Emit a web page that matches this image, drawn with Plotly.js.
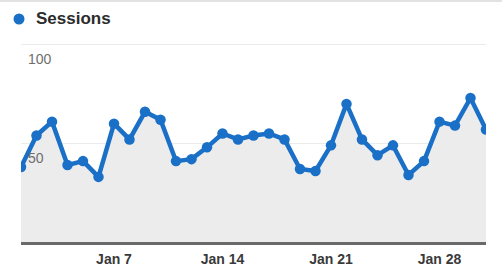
<!DOCTYPE html>
<html>
<head>
<meta charset="utf-8">
<script src="https://cdn.plot.ly/plotly-3.0.1.min.js"></script>
<style>html,body{margin:0;padding:0;background:#fff;}#chart{width:502px;height:267px;}</style>
</head>
<body>
<div id="chart"></div>
<script>
const days = [1,2,3,4,5,6,7,8,9,10,11,12,13,14,15,16,17,18,19,20,21,22,23,24,25,26,27,28,29,30,31];
const sessions = [38,54,61,39,41,33,60,52,66,62,41,42,48,55,52,54,55,52,37,36,49,70,52,44,49,34,41,61,59,73,57];
const tickDays = [7,14,21,28];
const tickLabels = ["Jan 7","Jan 14","Jan 21","Jan 28"];
const yTicks = [50,100];
const yTickLabels = ["50","100"];
const seriesName = "Sessions";

const trace = {
  x: days, y: sessions, type: 'scatter', mode: 'lines+markers',
  fill: 'tozeroy', fillcolor: '#ececec',
  line: {color: '#1a6fc7', width: 4.5},
  marker: {color: '#1a6fc7', size: 10.5},
  name: seriesName, showlegend: false, hoverinfo: 'skip'
};

const legY = (267 - 25 - 19) / 217;

const layout = {
  width: 502, height: 267,
  margin: {l: 21, r: 16, t: 25, b: 25},
  paper_bgcolor: '#ffffff', plot_bgcolor: '#ffffff',
  font: {family: 'Liberation Sans, Arial, sans-serif'},
  xaxis: {
    range: [1, 31], tickvals: tickDays, ticktext: tickLabels,
    showgrid: false, zeroline: false,
    showline: true, linecolor: '#6a6a6a', linewidth: 2.5,
    ticks: '', ticklen: 0, ticklabelstandoff: 3,
    tickfont: {size: 14, color: '#3a3a3a', family: 'Liberation Sans, Arial, sans-serif', weight: 'bold'},
    fixedrange: true
  },
  yaxis: {
    range: [0, 110], tickvals: yTicks, ticktext: yTickLabels,
    showgrid: true, gridcolor: '#ebebeb', gridwidth: 1,
    zeroline: false, showline: false, ticks: '',
    ticklabelposition: 'inside bottom',
    ticklabelstandoff: 4, ticklabelshift: 5,
    tickfont: {size: 14, color: '#6e6e6e'},
    fixedrange: true
  },
  shapes: [
    {type: 'rect', xref: 'paper', yref: 'paper', x0: -0.05, x1: 1.05,
     y0: (267 - 25 - 2) / 217, y1: (267 - 25) / 217, fillcolor: '#e2e2e2', line: {width: 0}, layer: 'below'},
    {type: 'circle', xref: 'paper', yref: 'paper', xsizemode: 'pixel', ysizemode: 'pixel',
     xanchor: (19 - 21) / 465, yanchor: legY, x0: -5.5, x1: 5.5, y0: -5.5, y1: 5.5,
     line: {width: 0}, fillcolor: '#1a6fc7'}
  ],
  annotations: [
    {xref: 'paper', yref: 'paper', x: (34 - 21) / 465, y: legY, xanchor: 'left', yanchor: 'middle',
     text: '<b>' + seriesName + '</b>', showarrow: false,
     font: {size: 17, color: '#2b2b2b', family: 'Liberation Sans, Arial, sans-serif'}}
  ]
};

Plotly.newPlot('chart', [trace], layout, {displayModeBar: false, staticPlot: true});
</script>
</body>
</html>
